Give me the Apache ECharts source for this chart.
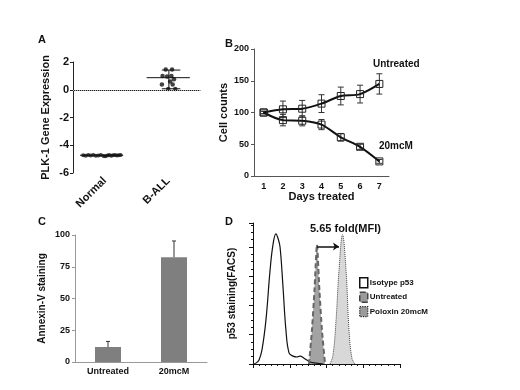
<!DOCTYPE html>
<html>
<head>
<meta charset="utf-8">
<script src="https://cdn.jsdelivr.net/npm/echarts@6/dist/echarts.min.js"></script>
<style>
  html, body { margin: 0; padding: 0; background: #fff; }
  #container { width: 520px; height: 390px; }
</style>
</head>
<body>
<div id="container"></div>
<script>
// panel A: PLK-1 expression
var aCategories = ['Normal', 'B-ALL'];
var normalPts = [
  [0.66, -4.72], [0.70, -4.75], [0.74, -4.70], [0.78, -4.74], [0.82, -4.71],
  [0.86, -4.76], [0.90, -4.73], [0.94, -4.70], [0.98, -4.78], [1.01, -4.80],
  [1.04, -4.74], [1.07, -4.71], [1.10, -4.76], [1.13, -4.72], [1.16, -4.70],
  [1.19, -4.74], [1.22, -4.72], [1.25, -4.71]
];
var ballPts = [
  [1.96, 1.46], [2.06, 1.46], [1.91, 1.0], [1.98, 0.95], [2.05, 1.0],
  [2.09, 0.76], [2.03, 0.6], [1.90, 0.38], [2.07, 0.38], [2.0, 0.06], [2.11, 0.06]
];
var normalMean = [[0.61, -4.72], [1.29, -4.72]];
var ballMean = [[1.66, 0.87], [2.34, 0.87]];
var ballRange = [[2.01, 0.07], [2.01, 1.42]];
var ballCapTop = [[1.9, 1.42], [2.19, 1.42]];
var ballCapLow = [[1.9, 0.07], [2.19, 0.07]];

// panel B: cell counts
var days = ['1', '2', '3', '4', '5', '6', '7'];
var untreatedCounts = [100, 105, 106, 114, 126, 129, 145];
var untreatedErr = [2, 13, 13, 14, 14, 14, 16];
var poloxinCounts = [100, 88, 87, 81, 61, 46, 23];
var poloxinErr = [2, 9, 8, 8, 6, 4, 3];

// panel C: annexin-V
var cCategories = ['Untreated', '20mcM'];
var annexin = [11.8, 82.5];
var annexinErr = [4.4, 12.8];

// panel D: FACS histograms
var isotypeCurve = [
  [0, 0], [2, 0.03], [4.1, 0.14], [6.1, 0.48], [8.8, 1.5], [11.6, 3.2], [13.6, 4.08],
  [15.6, 4.45], [17, 4.3], [18.4, 4.0], [20.4, 2.64], [22.4, 1.16], [24.5, 0.38],
  [27.2, 0.27], [29.9, 0.24], [32, 0.27], [34.7, 0.2], [38.8, 0.07], [43, 0.03], [48, 0]
];
var untreatedCurve = [
  [38.1, 0], [40.1, 1.16], [41.8, 2.5], [43.5, 4.08], [45.2, 2.5], [46.9, 1.16], [49, 0]
];
var poloxinCurve = [
  [52.4, 0], [54.4, 0.3], [56.5, 1.5], [58.5, 3.2], [60.9, 4.42], [63.3, 3.2],
  [65.3, 1.16], [67.3, 0.2], [69.4, 0]
];
var foldArrow = [[43.5, 4.02], [58.5, 4.02]];

var myChart = echarts.init(document.getElementById('container'));

function errRender(capHalf, upOnly) {
  return function (params, api) {
    var x = api.value(0);
    var lo = api.coord([x, upOnly ? api.value(1) : api.value(1) - api.value(2)]);
    var hi = api.coord([x, api.value(1) + api.value(2)]);
    var style = { stroke: '#333', lineWidth: 1 };
    return {
      type: 'group',
      children: [
        { type: 'line', shape: { x1: lo[0], y1: lo[1], x2: hi[0], y2: hi[1] }, style: style },
        { type: 'line', shape: { x1: hi[0] - capHalf, y1: hi[1], x2: hi[0] + capHalf, y2: hi[1] }, style: style },
        upOnly ? { type: 'group' } :
        { type: 'line', shape: { x1: lo[0] - capHalf, y1: lo[1], x2: lo[0] + capHalf, y2: lo[1] }, style: style }
      ]
    };
  };
}

function segment(data, xi, yi, w) {
  return {
    type: 'line', data: data, xAxisIndex: xi, yAxisIndex: yi,
    symbol: 'none', lineStyle: { color: '#111', width: w }, silent: true, z: 3
  };
}

var option = {
  animation: false,
  textStyle: { fontFamily: 'Liberation Sans, Arial, sans-serif' },
  grid: [
    { left: 73, top: 62, width: 127, height: 111 },
    { left: 254, top: 49, width: 135, height: 127 },
    { left: 75, top: 235, width: 132, height: 127 },
    { left: 253, top: 223, width: 147, height: 141 }
  ],
  xAxis: [
    {
      gridIndex: 0, type: 'category', data: aCategories,
      axisLine: { lineStyle: { color: '#222' } },
      axisTick: { alignWithLabel: true, length: 3 },
      axisLabel: { rotate: 45, fontSize: 11, fontWeight: 'bold', color: '#111', margin: 6 }
    },
    { gridIndex: 0, type: 'value', min: 0.5, max: 2.5, show: false },
    {
      gridIndex: 1, type: 'category', data: days,
      name: 'Days treated', nameLocation: 'middle', nameGap: 14,
      nameTextStyle: { fontSize: 11, fontWeight: 'bold', color: '#111' },
      axisLine: { lineStyle: { color: '#555' } },
      axisTick: { length: 3 },
      axisLabel: { fontSize: 9, fontWeight: 'bold', color: '#111', margin: 6 }
    },
    {
      gridIndex: 2, type: 'category', data: cCategories,
      axisLine: { lineStyle: { color: '#999' } },
      axisTick: { length: 3 },
      axisLabel: { fontSize: 9, fontWeight: 'bold', color: '#111', margin: 5 }
    },
    {
      gridIndex: 3, type: 'value', min: 0, max: 100, interval: 25,
      axisLine: { lineStyle: { color: '#111' } },
      axisTick: { length: 4 },
      minorTick: { show: true, splitNumber: 6, length: 2 },
      axisLabel: { show: false },
      splitLine: { show: false }
    }
  ],
  yAxis: [
    {
      gridIndex: 0, type: 'value', min: -6, max: 2, interval: 2,
      name: 'PLK-1 Gene Expression', nameLocation: 'middle', nameGap: 22,
      nameTextStyle: { fontSize: 11, fontWeight: 'bold', color: '#111' },
      axisLine: { show: true, lineStyle: { color: '#222' } },
      axisTick: { show: true, length: 3 },
      axisLabel: { fontSize: 11, fontWeight: 'bold', color: '#111', margin: 4 },
      splitLine: { show: false }
    },
    {
      gridIndex: 1, type: 'value', min: 0, max: 200, interval: 50,
      name: 'Cell counts', nameLocation: 'middle', nameGap: 25,
      nameTextStyle: { fontSize: 11, fontWeight: 'bold', color: '#111' },
      axisLine: { show: true, lineStyle: { color: '#555' } },
      axisTick: { show: true, length: 3 },
      axisLabel: { fontSize: 9, fontWeight: 'bold', color: '#111', margin: 5 },
      splitLine: { show: false }
    },
    {
      gridIndex: 2, type: 'value', min: 0, max: 100, interval: 25,
      name: 'Annexin-V staining', nameLocation: 'middle', nameGap: 28,
      nameTextStyle: { fontSize: 10, fontWeight: 'bold', color: '#111' },
      axisLine: { show: true, lineStyle: { color: '#999' } },
      axisTick: { show: true, length: 3 },
      axisLabel: { fontSize: 9, fontWeight: 'bold', color: '#111', margin: 5 },
      splitLine: { show: false }
    },
    {
      gridIndex: 3, type: 'value', min: 0, max: 4.82, interval: 1,
      name: 'p53 staining(FACS)', nameLocation: 'middle', nameGap: 16,
      nameTextStyle: { fontSize: 10, fontWeight: 'bold', color: '#111' },
      axisLine: { show: true, lineStyle: { color: '#111' } },
      axisTick: { show: true, length: 4 },
      minorTick: { show: true, splitNumber: 4, length: 2 },
      axisLabel: { show: false },
      splitLine: { show: false }
    }
  ],
  legend: {
    left: 354, top: 272, orient: 'vertical', icon: 'rect',
    itemWidth: 8, itemHeight: 10, itemGap: 3, selectedMode: false,
    textStyle: { fontSize: 8, fontWeight: 'bold', color: '#111', padding: [0, 0, 0, -3] },
    data: [
      { name: 'Isotype p53', itemStyle: { color: '#fff', borderColor: '#111', borderWidth: 1.5, borderType: 'solid' } },
      { name: 'Untreated', itemStyle: { color: '#9a9a9a', borderColor: '#444', borderWidth: 1.5, borderType: 'dashed' } },
      { name: 'Poloxin 20mcM', itemStyle: { color: '#9a9a9a', borderColor: '#222', borderWidth: 1.2, borderType: 'dotted' } }
    ]
  },
  graphic: [
    { type: 'text', left: 38, top: 34, style: { text: 'A', font: 'bold 11px Liberation Sans', fill: '#111' } },
    { type: 'text', left: 225, top: 38, style: { text: 'B', font: 'bold 11px Liberation Sans', fill: '#111' } },
    { type: 'text', left: 38, top: 216, style: { text: 'C', font: 'bold 11px Liberation Sans', fill: '#111' } },
    { type: 'text', left: 225, top: 216, style: { text: 'D', font: 'bold 11px Liberation Sans', fill: '#111' } },
    { type: 'text', left: 373, top: 59, style: { text: 'Untreated', font: 'bold 10px Liberation Sans', fill: '#111' } },
    { type: 'text', left: 379, top: 141, style: { text: '20mcM', font: 'bold 10px Liberation Sans', fill: '#111' } },
    { type: 'text', left: 310, top: 223, style: { text: '5.65 fold(MFI)', font: 'bold 11px Liberation Sans', fill: '#111' } }
  ],
  series: [
    // A
    {
      type: 'line', data: [], xAxisIndex: 0, yAxisIndex: 0,
      markLine: {
        silent: true, symbol: 'none', label: { show: false },
        lineStyle: { color: '#aaa', type: 'dotted', width: 1 },
        data: [{ yAxis: 0 }]
      }
    },
    {
      type: 'scatter', data: normalPts, xAxisIndex: 1, yAxisIndex: 0,
      symbolSize: 4, itemStyle: { color: '#111' }
    },
    {
      type: 'scatter', data: ballPts, xAxisIndex: 1, yAxisIndex: 0,
      symbolSize: 4.5, itemStyle: { color: '#111' }
    },
    segment(normalMean, 1, 0, 1),
    segment(ballMean, 1, 0, 1),
    segment(ballRange, 1, 0, 1),
    segment(ballCapTop, 1, 0, 1),
    segment(ballCapLow, 1, 0, 1),
    // B
    {
      type: 'custom', xAxisIndex: 2, yAxisIndex: 1, renderItem: errRender(3, false),
      data: untreatedCounts.map(function (v, i) { return [i, v, untreatedErr[i]]; }), z: 2
    },
    {
      type: 'custom', xAxisIndex: 2, yAxisIndex: 1, renderItem: errRender(3, false),
      data: poloxinCounts.map(function (v, i) { return [i, v, poloxinErr[i]]; }), z: 2
    },
    {
      type: 'line', data: untreatedCounts, xAxisIndex: 2, yAxisIndex: 1, smooth: 0.3,
      symbol: 'rect', symbolSize: 7, showSymbol: true,
      itemStyle: { color: 'rgba(255,255,255,0)', borderColor: '#222', borderWidth: 1 },
      lineStyle: { color: '#111', width: 2 }, z: 3
    },
    {
      type: 'line', data: poloxinCounts, xAxisIndex: 2, yAxisIndex: 1, smooth: 0.3,
      symbol: 'rect', symbolSize: 7, showSymbol: true,
      itemStyle: { color: 'rgba(255,255,255,0)', borderColor: '#222', borderWidth: 1 },
      lineStyle: { color: '#111', width: 2 }, z: 3
    },
    // C
    {
      type: 'bar', data: annexin, xAxisIndex: 3, yAxisIndex: 2, barWidth: 26,
      itemStyle: { color: '#7f7f7f' }
    },
    {
      type: 'custom', xAxisIndex: 3, yAxisIndex: 2, renderItem: errRender(2, true),
      data: annexin.map(function (v, i) { return [i, v, annexinErr[i]]; }), z: 3
    },
    // D
    {
      name: 'Isotype p53', type: 'line', data: isotypeCurve, xAxisIndex: 4, yAxisIndex: 3,
      smooth: 0.4, symbol: 'none',
      lineStyle: { color: '#111', width: 1.2 },
      areaStyle: { color: '#fff', opacity: 1 }, itemStyle: { color: '#fff' }
    },
    {
      name: 'Untreated', type: 'line', data: untreatedCurve, xAxisIndex: 4, yAxisIndex: 3,
      smooth: 0.2, symbol: 'none',
      lineStyle: { color: '#666', width: 2, type: [5, 3] },
      areaStyle: { color: '#a3a3a3', opacity: 1 }, itemStyle: { color: '#9a9a9a' }
    },
    {
      name: 'Poloxin 20mcM', type: 'line', data: poloxinCurve, xAxisIndex: 4, yAxisIndex: 3,
      smooth: 0.4, symbol: 'none',
      lineStyle: { color: '#444', width: 1, type: 'dotted' },
      areaStyle: { color: '#d8d8d8', opacity: 1 }, itemStyle: { color: '#9a9a9a' },
      markLine: {
        silent: true, symbol: ['none', 'arrow'], symbolSize: 6, label: { show: false },
        lineStyle: { color: '#111', width: 1.5, type: 'solid' },
        data: [[{ coord: foldArrow[0] }, { coord: foldArrow[1] }]]
      }
    }
  ]
};

myChart.setOption(option);
</script>
</body>
</html>
